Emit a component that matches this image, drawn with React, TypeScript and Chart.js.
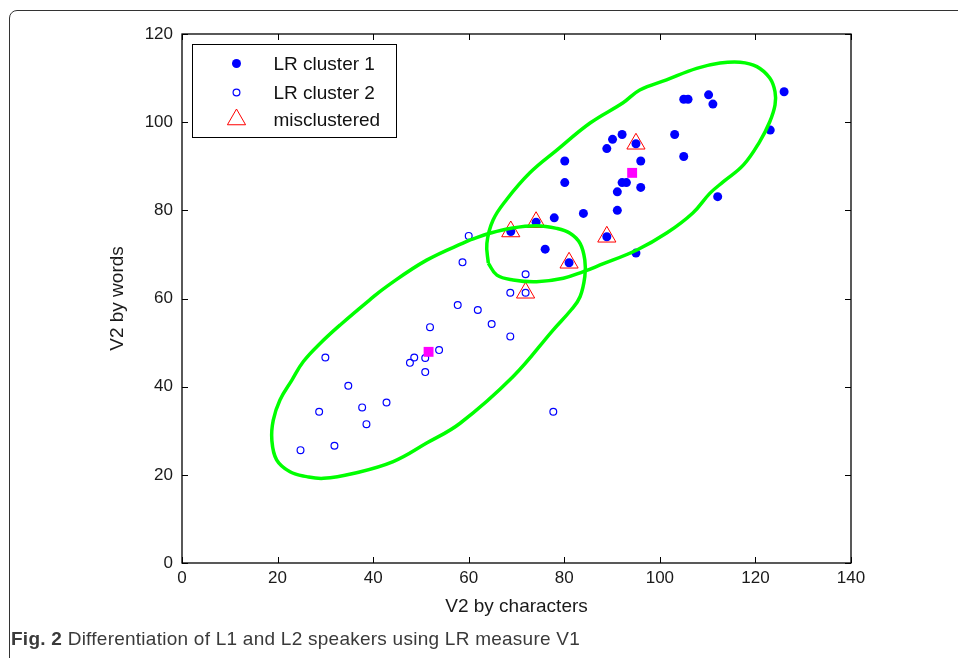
import React, { useEffect, useRef } from "react";
import { Chart, registerables } from "chart.js";

Chart.register(...registerables);

// ---- Data ----
const xTickValues = [0, 20, 40, 60, 80, 100, 120, 140];
const yTickValues = [0, 20, 40, 60, 80, 100, 120];

const legendLabels = ["LR cluster 1", "LR cluster 2", "misclustered"];

const cluster1X = [126.0, 105.0, 105.9, 110.2, 111.1, 123.1, 103.1, 105.0, 112.1, 92.1, 90.1, 88.9, 95.0, 96.0, 92.1, 93.0, 96.0, 91.1, 91.1, 80.1, 80.1, 84.0, 77.9, 74.1, 68.8, 88.9, 76.0, 81.0, 95.0];
const cluster1Y = [106.9, 105.2, 105.2, 106.2, 104.1, 98.2, 97.2, 92.2, 83.1, 97.2, 96.1, 94.0, 95.1, 91.2, 86.3, 86.3, 85.2, 84.2, 80.0, 91.2, 86.3, 79.3, 78.3, 77.3, 75.2, 74.0, 71.2, 68.1, 70.3];

const cluster2X = [60.0, 58.7, 71.9, 68.7, 71.9, 57.7, 61.9, 64.8, 68.7, 51.9, 53.8, 48.6, 50.9, 47.7, 50.9, 30.0, 34.8, 42.8, 37.7, 28.7, 38.6, 77.7, 31.9, 24.8];
const cluster2Y = [74.2, 68.2, 65.5, 61.3, 61.3, 58.5, 57.4, 54.2, 51.4, 53.5, 48.3, 46.6, 46.5, 45.4, 43.3, 46.6, 40.2, 36.4, 35.3, 34.3, 31.5, 34.3, 26.6, 25.6];

const misclusteredX = [95.0, 74.1, 68.8, 88.9, 81.0, 71.9];
const misclusteredY = [95.1, 77.3, 75.2, 74.0, 68.1, 61.3];

const centroidX = [94.2, 51.6];
const centroidY = [88.5, 47.9];

// Outline of the hand-drawn green curves
const outline1X = [64.1, 63.8, 65.1, 67.9, 72.8, 78.5, 85.4, 92.3, 95.8, 101.4, 107.7, 112.6, 116.8, 120.3, 123.0, 124.1, 124.1, 123.0, 120.9, 117.5, 113.3, 110.5, 106.9, 101.5, 95.2, 87.5, 84.0, 79.8, 74.2, 69.3, 65.9, 64.1];
const outline1Y = [68.0, 72.5, 77.8, 82.4, 88.5, 93.7, 99.8, 104.4, 107.3, 109.6, 112.2, 113.4, 113.6, 112.6, 110.0, 106.9, 103.9, 100.1, 95.6, 90.3, 86.5, 83.9, 79.4, 74.9, 71.0, 67.6, 66.1, 64.6, 63.8, 64.2, 65.3, 68.0];

const outline2X = [60.3, 64.4, 68.6, 74.2, 78.4, 81.2, 83.3, 84.3, 84.3, 83.3, 81.5, 77.7, 69.3, 58.2, 51.2, 44.2, 35.8, 29.6, 26.1, 22.6, 19.8, 18.8, 19.1, 20.5, 23.0, 25.4, 28.9, 33.1, 39.3, 42.8, 51.2, 60.3];
const outline2Y = [73.3, 74.8, 75.9, 76.5, 75.9, 74.8, 72.5, 68.7, 65.0, 60.4, 57.5, 52.9, 42.3, 31.7, 27.2, 23.0, 20.3, 19.2, 19.6, 20.7, 23.4, 27.9, 32.4, 37.0, 41.5, 45.7, 49.8, 54.0, 59.7, 62.7, 68.7, 73.3];

const zip = (xs: number[], ys: number[]) => xs.map((x, i) => ({ x, y: ys[i] }));

const FONT = "'Liberation Sans', Arial, Helvetica, sans-serif";

const boxPlugin = {
  id: "boxAndLegend",
  afterDatasetsDraw(chart: any) {
    const { ctx, chartArea } = chart;
    const { left, right, top, bottom } = chartArea;
    const xs = chart.scales.x;
    const ys = chart.scales.y;
    ctx.save();
    ctx.strokeStyle = "#000";
    ctx.lineWidth = 1.3;
    ctx.strokeRect(left, top, right - left, bottom - top);
    ctx.lineWidth = 1;
    const tl = 6;
    ctx.beginPath();
    xTickValues.forEach((v) => {
      const px = Math.round(xs.getPixelForValue(v)) + 0.5;
      ctx.moveTo(px, bottom);
      ctx.lineTo(px, bottom - tl);
      ctx.moveTo(px, top);
      ctx.lineTo(px, top + tl);
    });
    yTickValues.forEach((v) => {
      const py = Math.round(ys.getPixelForValue(v)) + 0.5;
      ctx.moveTo(left, py);
      ctx.lineTo(left + tl, py);
      ctx.moveTo(right, py);
      ctx.lineTo(right - tl, py);
    });
    ctx.stroke();

    // legend box
    const lx = left + 10.5;
    const ly = top + 10.5;
    const lw = 204;
    const lh = 93;
    ctx.fillStyle = "#fff";
    ctx.fillRect(lx, ly, lw, lh);
    ctx.lineWidth = 1;
    ctx.strokeStyle = "#000";
    ctx.strokeRect(lx, ly, lw, lh);

    const mx = lx + 44;
    const tx = lx + 81;
    const rows = [ly + 19, ly + 48, ly + 75];
    // filled dot
    ctx.fillStyle = "#0000ff";
    ctx.beginPath();
    ctx.arc(mx, rows[0], 4.5, 0, Math.PI * 2);
    ctx.fill();
    // open circle
    ctx.strokeStyle = "#0000ff";
    ctx.lineWidth = 1.2;
    ctx.beginPath();
    ctx.arc(mx, rows[1], 3.4, 0, Math.PI * 2);
    ctx.stroke();
    // triangle
    ctx.strokeStyle = "#ff0000";
    ctx.lineWidth = 1;
    const r = 10.5;
    ctx.beginPath();
    ctx.moveTo(mx, rows[2] - r);
    ctx.lineTo(mx + r * Math.sin((2 * Math.PI) / 3), rows[2] - r * Math.cos((2 * Math.PI) / 3));
    ctx.lineTo(mx + r * Math.sin((4 * Math.PI) / 3), rows[2] - r * Math.cos((4 * Math.PI) / 3));
    ctx.closePath();
    ctx.stroke();

    ctx.fillStyle = "#111";
    ctx.font = `19px ${FONT}`;
    ctx.textBaseline = "middle";
    ctx.textAlign = "left";
    legendLabels.forEach((t, i) => ctx.fillText(t, tx, rows[i] + 1));
    ctx.restore();
  },
};

export default function App() {
  const canvasRef = useRef<HTMLCanvasElement | null>(null);

  useEffect(() => {
    const canvas = canvasRef.current;
    if (!canvas) return;
    const chart = new Chart(canvas, {
      type: "scatter",
      data: {
        datasets: [
          {
            label: "outline 1",
            data: zip(outline1X, outline1Y),
            showLine: true,
            borderColor: "#00ff00",
            borderWidth: 3.5,
            pointRadius: 0,
            tension: 0.4,
            fill: false,
            order: 2,
          },
          {
            label: "outline 2",
            data: zip(outline2X, outline2Y),
            showLine: true,
            borderColor: "#00ff00",
            borderWidth: 3.5,
            pointRadius: 0,
            tension: 0.4,
            fill: false,
            order: 2,
          },
          {
            label: legendLabels[1],
            data: zip(cluster2X, cluster2Y),
            pointStyle: "circle",
            pointRadius: 3.4,
            backgroundColor: "rgba(0,0,0,0)",
            borderColor: "#0000ff",
            borderWidth: 1.2,
            order: 5,
          },
          {
            label: legendLabels[0],
            data: zip(cluster1X, cluster1Y),
            pointStyle: "circle",
            pointRadius: 4.5,
            backgroundColor: "#0000ff",
            borderColor: "#0000ff",
            borderWidth: 0,
            order: 4,
          },
          {
            label: legendLabels[2],
            data: zip(misclusteredX, misclusteredY),
            pointStyle: "triangle",
            pointRadius: 10.5,
            backgroundColor: "rgba(0,0,0,0)",
            borderColor: "#ff0000",
            borderWidth: 1,
            order: 3,
          },
          {
            label: "centroids",
            data: zip(centroidX, centroidY),
            pointStyle: "rect",
            pointRadius: 7,
            backgroundColor: "#ff00ff",
            borderColor: "#ff00ff",
            borderWidth: 0,
            order: 1,
          },
        ],
      },
      options: {
        animation: false,
        responsive: false,
        maintainAspectRatio: false,
        layout: { padding: { left: 0, top: 34, right: 107, bottom: 0 } },
        plugins: {
          legend: { display: false },
          tooltip: { enabled: false },
        },
        scales: {
          x: {
            type: "linear",
            min: 0,
            max: 140,
            afterBuildTicks: (s: any) => {
              s.ticks = xTickValues.map((v) => ({ value: v }));
            },
            ticks: {
              font: { family: FONT, size: 17 },
              color: "#1a1a1a",
              padding: 5,
              maxRotation: 0,
            },
            grid: { display: false, drawTicks: false },
            border: { display: false },
            title: {
              display: true,
              text: "V2 by characters",
              font: { family: FONT, size: 19 },
              color: "#1a1a1a",
              padding: { top: 0, bottom: 40 },
            },
            afterFit: (s: any) => {
              s.height = 95;
            },
          },
          y: {
            type: "linear",
            min: 0,
            max: 120,
            afterBuildTicks: (s: any) => {
              s.ticks = yTickValues.map((v) => ({ value: v }));
            },
            ticks: {
              font: { family: FONT, size: 17 },
              color: "#1a1a1a",
              padding: 9,
            },
            grid: { display: false, drawTicks: false },
            border: { display: false },
            title: {
              display: true,
              text: "V2 by words",
              font: { family: FONT, size: 19 },
              color: "#1a1a1a",
              padding: { top: 106, bottom: 0 },
            },
            afterFit: (s: any) => {
              s.width = 182;
            },
          },
        },
      },
      plugins: [boxPlugin],
    } as any);
    return () => chart.destroy();
  }, []);

  return (
    <div
      style={{
        position: "absolute",
        left: 0,
        top: 0,
        width: 958,
        height: 658,
        overflow: "hidden",
        background: "#fff",
      }}
    >
      <div
        style={{
          position: "absolute",
          left: 9,
          top: 10,
          width: 1000,
          height: 700,
          border: "1.5px solid #333",
          borderRadius: 8,
          boxSizing: "border-box",
        }}
      />
      <canvas
        ref={canvasRef}
        width={958}
        height={658}
        style={{ position: "absolute", left: 0, top: 0, width: 958, height: 658 }}
      />
      <div
        style={{
          position: "absolute",
          left: 11,
          top: 628,
          fontFamily: FONT,
          fontSize: 19,
          letterSpacing: 0.25,
          lineHeight: "22px",
          color: "#3a3a3a",
          whiteSpace: "nowrap",
        }}
      >
        <b>Fig. 2</b> Differentiation of L1 and L2 speakers using LR measure V1
      </div>
    </div>
  );
}
